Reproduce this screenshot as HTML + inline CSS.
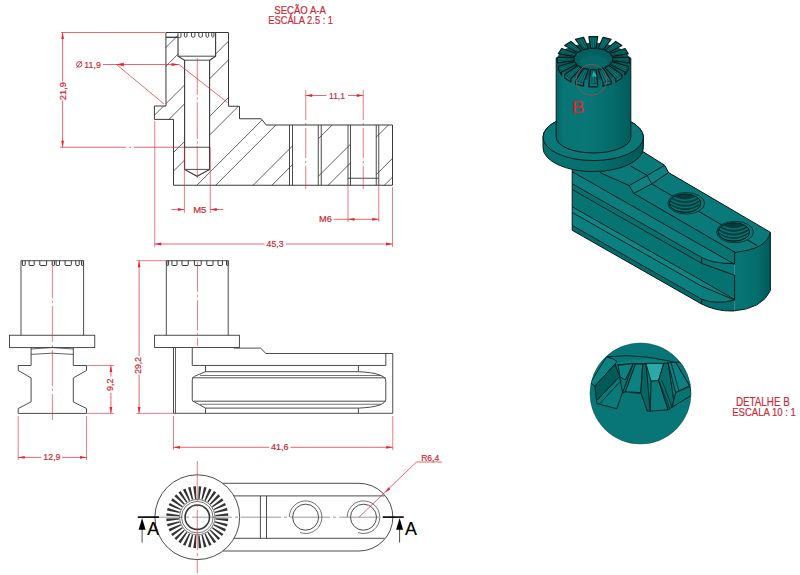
<!DOCTYPE html>
<html><head><meta charset="utf-8"><style>
html,body{margin:0;padding:0;background:#fff;width:800px;height:575px;overflow:hidden}
svg{display:block}
text{font-family:"Liberation Sans",sans-serif}
</style></head><body>
<svg width="800" height="575" viewBox="0 0 800 575">
<clipPath id="hc"><path clip-rule="evenodd" d="M165.9,32.5 H228.5 V106.25 H239.5 V118.75 H261.25 L266.25,125 H392.5 V185.25 H173.5 V119.4 H154.4 V106 H166 Z M178,32.5 V56.2 L184.6,60.2 V169.4 L197.1,176.3 L209.6,169.4 V60.2 L215.6,56.2 V32.5 Z M292.5,125 H318.25 V185.25 H292.5 Z M350.5,125 H376.25 V185.25 H350.5 Z"/></clipPath>
<path clip-path="url(#hc)" d="M-192.85,200 L-12.85,20 M-155.35,200 L24.65,20 M-136.60,200 L43.40,20 M-99.10,200 L80.90,20 M-80.35,200 L99.65,20 M-42.85,200 L137.15,20 M-24.10,200 L155.90,20 M13.40,200 L193.40,20 M32.15,200 L212.15,20 M69.65,200 L249.65,20 M88.40,200 L268.40,20 M125.90,200 L305.90,20 M144.65,200 L324.65,20 M182.15,200 L362.15,20 M200.90,200 L380.90,20 M238.40,200 L418.40,20 M257.15,200 L437.15,20 M294.65,200 L474.65,20 M313.40,200 L493.40,20 M350.90,200 L530.90,20 M369.65,200 L549.65,20 M407.15,200 L587.15,20 M425.90,200 L605.90,20 M463.40,200 L643.40,20 M482.15,200 L662.15,20 M519.65,200 L699.65,20 M538.40,200 L718.40,20" stroke="#383838" stroke-width="0.8" fill="none"/>
<path d="M165.9,32.5 H228.5 V106.25 H239.5 V118.75 H261.25 L266.25,125 H392.5 V185.25 H173.5 V119.4 H154.4 V106 H166 Z" fill="none" stroke="#383838" stroke-width="1"/>
<path d="M178,37.3 V56.2 L184.6,60.2 V169.4 L197.1,176.3 L209.6,169.4 V60.2 L215.6,56.2 V32.5" fill="none" stroke="#383838" stroke-width="1.1"/>
<line x1="178" y1="56.2" x2="215.6" y2="56.2" stroke="#383838" stroke-width="0.9" />
<line x1="184.6" y1="60.2" x2="209.6" y2="60.2" stroke="#383838" stroke-width="0.9" />
<line x1="184.6" y1="169.4" x2="209.6" y2="169.4" stroke="#383838" stroke-width="0.9" />
<line x1="184.6" y1="147.25" x2="209.6" y2="147.25" stroke="#383838" stroke-width="0.9" />
<line x1="166" y1="37.3" x2="178" y2="37.3" stroke="#383838" stroke-width="1.3" />
<path d="M184.4,32.8 V36.5 Q185.7,38.2 187,36.5 V32.8" fill="none" stroke="#383838" stroke-width="0.9"/>
<path d="M191.5,32.8 V36.5 Q193.2,38.2 194.9,36.5 V32.8" fill="none" stroke="#383838" stroke-width="0.9"/>
<path d="M198.8,32.8 V36.5 Q200.60000000000002,38.2 202.4,36.5 V32.8" fill="none" stroke="#383838" stroke-width="0.9"/>
<path d="M206,32.8 V36.5 Q207.35,38.2 208.7,36.5 V32.8" fill="none" stroke="#383838" stroke-width="0.9"/>
<path d="M211.8,32.8 V36.5 Q212.85000000000002,38.2 213.9,36.5 V32.8" fill="none" stroke="#383838" stroke-width="0.9"/>
<path d="M178,33 V37.3 Q179.5,38 181,37 V33" fill="none" stroke="#383838" stroke-width="0.9"/>
<line x1="289.5" y1="125" x2="289.5" y2="185.25" stroke="#383838" stroke-width="0.9" />
<line x1="292.5" y1="125" x2="292.5" y2="185.25" stroke="#383838" stroke-width="0.9" />
<line x1="318.25" y1="125" x2="318.25" y2="185.25" stroke="#383838" stroke-width="0.9" />
<line x1="321.25" y1="125" x2="321.25" y2="185.25" stroke="#383838" stroke-width="0.9" />
<line x1="348" y1="125" x2="348" y2="185.25" stroke="#383838" stroke-width="0.9" />
<line x1="350.5" y1="125" x2="350.5" y2="185.25" stroke="#383838" stroke-width="0.9" />
<line x1="376.25" y1="125" x2="376.25" y2="185.25" stroke="#383838" stroke-width="0.9" />
<line x1="378.75" y1="125" x2="378.75" y2="185.25" stroke="#383838" stroke-width="0.9" />
<line x1="348" y1="178.25" x2="378.75" y2="178.25" stroke="#383838" stroke-width="0.9" />
<line x1="61" y1="32.5" x2="165" y2="32.5" stroke="#e0262e" stroke-width="0.7" />
<line x1="62.6" y1="32.5" x2="62.6" y2="81.5" stroke="#e0262e" stroke-width="0.7" />
<line x1="62.6" y1="100.5" x2="62.6" y2="147.25" stroke="#e0262e" stroke-width="0.7" />
<path d="M62.60,32.50 L64.00,39.00 L61.20,39.00Z" fill="#e0262e"/>
<path d="M62.60,147.25 L61.20,140.75 L64.00,140.75Z" fill="#e0262e"/>
<line x1="60" y1="147.25" x2="184" y2="147.25" stroke="#e0262e" stroke-width="0.7" stroke-dasharray="66 3 2 3"/>
<text x="65.60" y="100.16" font-size="8.87" textLength="18.10" lengthAdjust="spacingAndGlyphs" fill="#c82a38" stroke="#c82a38" stroke-width="0.2" transform="rotate(-90 65.60 100.16)" >21,9</text>
<text x="84.34" y="67.60" font-size="9.30" textLength="16.47" lengthAdjust="spacingAndGlyphs" fill="#c82a38" stroke="#c82a38" stroke-width="0.2" >11,9</text>
<circle cx="79.2" cy="64.4" r="2.7" fill="none" stroke="#c82a38" stroke-width="0.9"/><line x1="76.6" y1="68" x2="81.8" y2="60.8" stroke="#c82a38" stroke-width="0.9"/>
<line x1="103" y1="64.5" x2="179" y2="64.5" stroke="#e0262e" stroke-width="0.7" />
<path d="M116.00,64.50 L123.80,62.80 L123.80,66.20Z" fill="#e0262e"/>
<path d="M179.00,64.50 L171.50,66.10 L171.50,62.90Z" fill="#e0262e"/>
<line x1="116.5" y1="64.5" x2="164" y2="104" stroke="#e0262e" stroke-width="0.7" />
<line x1="179" y1="64.5" x2="227.5" y2="102.5" stroke="#e0262e" stroke-width="0.7" />
<line x1="197.3" y1="58" x2="197.3" y2="178" stroke="#e0262e" stroke-width="0.6" stroke-dasharray="37 2.5 2 2.5"/>
<line x1="184.4" y1="147.5" x2="184.4" y2="213" stroke="#e0262e" stroke-width="0.6" />
<line x1="210.25" y1="147.5" x2="210.25" y2="213" stroke="#e0262e" stroke-width="0.6" />
<line x1="171.5" y1="209.5" x2="184.4" y2="209.5" stroke="#e0262e" stroke-width="0.7" />
<line x1="210.25" y1="209.5" x2="223.3" y2="209.5" stroke="#e0262e" stroke-width="0.7" />
<path d="M184.40,209.50 L177.90,210.90 L177.90,208.10Z" fill="#e0262e"/>
<path d="M210.25,209.50 L216.75,208.10 L216.75,210.90Z" fill="#e0262e"/>
<text x="193.22" y="212.75" font-size="9.52" textLength="13.18" lengthAdjust="spacingAndGlyphs" fill="#c82a38" stroke="#c82a38" stroke-width="0.2" >M5</text>
<line x1="348" y1="186" x2="348" y2="222" stroke="#e0262e" stroke-width="0.6" />
<line x1="378.75" y1="186" x2="378.75" y2="222" stroke="#e0262e" stroke-width="0.6" />
<line x1="333.75" y1="219.3" x2="378.75" y2="219.3" stroke="#e0262e" stroke-width="0.7" />
<path d="M348.00,219.30 L354.50,217.90 L354.50,220.70Z" fill="#e0262e"/>
<path d="M378.75,219.30 L372.25,220.70 L372.25,217.90Z" fill="#e0262e"/>
<text x="319.04" y="222.00" font-size="9.01" textLength="12.76" lengthAdjust="spacingAndGlyphs" fill="#c82a38" stroke="#c82a38" stroke-width="0.2" >M6</text>
<line x1="305.75" y1="90" x2="305.75" y2="189" stroke="#e0262e" stroke-width="0.6" stroke-dasharray="30 3 2 3"/>
<line x1="363.25" y1="90" x2="363.25" y2="189" stroke="#e0262e" stroke-width="0.6" stroke-dasharray="30 3 2 3"/>
<line x1="305.75" y1="95.5" x2="326.5" y2="95.5" stroke="#e0262e" stroke-width="0.7" />
<line x1="348" y1="95.5" x2="363.25" y2="95.5" stroke="#e0262e" stroke-width="0.7" />
<path d="M305.75,95.50 L312.25,94.10 L312.25,96.90Z" fill="#e0262e"/>
<path d="M363.25,95.50 L356.75,96.90 L356.75,94.10Z" fill="#e0262e"/>
<text x="329.12" y="98.50" font-size="9.45" textLength="15.80" lengthAdjust="spacingAndGlyphs" fill="#c82a38" stroke="#c82a38" stroke-width="0.2" >11,1</text>
<line x1="154.75" y1="121" x2="154.75" y2="247" stroke="#e0262e" stroke-width="0.6" />
<line x1="392.5" y1="187" x2="392.5" y2="247" stroke="#e0262e" stroke-width="0.6" />
<line x1="154.75" y1="244" x2="264.5" y2="244" stroke="#e0262e" stroke-width="0.7" />
<line x1="286" y1="244" x2="392.5" y2="244" stroke="#e0262e" stroke-width="0.7" />
<path d="M154.75,244.00 L161.25,242.60 L161.25,245.40Z" fill="#e0262e"/>
<path d="M392.50,244.00 L386.00,245.40 L386.00,242.60Z" fill="#e0262e"/>
<text x="266.55" y="246.90" font-size="8.72" textLength="16.93" lengthAdjust="spacingAndGlyphs" fill="#c82a38" stroke="#c82a38" stroke-width="0.2" >45,3</text>
<text x="274.27" y="13.50" font-size="11.48" textLength="51.66" lengthAdjust="spacingAndGlyphs" fill="#c82a38" stroke="#c82a38" stroke-width="0.2" >SEÇÃO A-A</text>
<text x="268.23" y="24.20" font-size="11.48" textLength="64.83" lengthAdjust="spacingAndGlyphs" fill="#c82a38" stroke="#c82a38" stroke-width="0.2" >ESCALA 2.5 : 1</text>
<path d="M21,335.25 V260.7 H83.6 V335.25" fill="none" stroke="#383838" stroke-width="0.9"/>
<path d="M22.4,260.7 V264.9 Q22.4,265.5 23.2,265.5 H24.4 Q25.2,265.5 25.2,264.9 V260.7" fill="none" stroke="#383838" stroke-width="1"/>
<path d="M29.1,260.7 V264.9 Q29.1,265.5 29.900000000000002,265.5 H33.400000000000006 Q34.2,265.5 34.2,264.9 V260.7" fill="none" stroke="#383838" stroke-width="1"/>
<path d="M39.8,260.7 V264.9 Q39.8,265.5 40.599999999999994,265.5 H45.800000000000004 Q46.6,265.5 46.6,264.9 V260.7" fill="none" stroke="#383838" stroke-width="1"/>
<path d="M52.2,260.7 V264.9 Q52.2,265.5 53.0,265.5 H53.6 Q54.4,265.5 54.4,264.9 V260.7" fill="none" stroke="#383838" stroke-width="1"/>
<path d="M56.1,260.7 V264.9 Q56.1,265.5 56.9,265.5 H58.7 Q59.5,265.5 59.5,264.9 V260.7" fill="none" stroke="#383838" stroke-width="1"/>
<path d="M65.1,260.7 V264.9 Q65.1,265.5 65.89999999999999,265.5 H70.5 Q71.3,265.5 71.3,264.9 V260.7" fill="none" stroke="#383838" stroke-width="1"/>
<path d="M75.8,260.7 V264.9 Q75.8,265.5 76.6,265.5 H78.4 Q79.2,265.5 79.2,264.9 V260.7" fill="none" stroke="#383838" stroke-width="1"/>
<path d="M81.5,260.7 V264.9 Q81.5,265.5 82.3,265.5 H82.5 Q83.3,265.5 83.3,264.9 V260.7" fill="none" stroke="#383838" stroke-width="1"/>
<rect x="9.5" y="335.25" width="85.25" height="12.35" fill="none" stroke="#383838" stroke-width="0.9"/>
<path d="M31.1,347.6 V365.5 H18.2 V370.5 L31.1,377.9 V401.9 L18.2,408.5 V413.4 H86.5 V408.5 L73.3,401.9 V377.9 L86.5,370.5 V365.5 H73.3 V347.6" fill="none" stroke="#383838" stroke-width="0.9"/>
<path d="M31.1,349 Q52.2,346 73.3,349" fill="none" stroke="#383838" stroke-width="0.8"/>
<path d="M31.1,354.4 Q52.2,352 73.3,354.4" fill="none" stroke="#383838" stroke-width="0.8"/>
<line x1="52.4" y1="262" x2="52.4" y2="420" stroke="#e0262e" stroke-width="0.6" stroke-dasharray="36 3 2 3"/>
<line x1="87" y1="365.5" x2="114" y2="365.5" stroke="#e0262e" stroke-width="0.6" />
<line x1="87" y1="413.4" x2="114" y2="413.4" stroke="#e0262e" stroke-width="0.6" />
<line x1="110.9" y1="365.5" x2="110.9" y2="376.5" stroke="#e0262e" stroke-width="0.7" />
<line x1="110.9" y1="392.8" x2="110.9" y2="413.4" stroke="#e0262e" stroke-width="0.7" />
<path d="M110.90,365.50 L112.30,372.00 L109.50,372.00Z" fill="#e0262e"/>
<path d="M110.90,413.40 L109.50,406.90 L112.30,406.90Z" fill="#e0262e"/>
<text x="113.10" y="390.93" font-size="8.14" textLength="12.58" lengthAdjust="spacingAndGlyphs" fill="#c82a38" stroke="#c82a38" stroke-width="0.2" transform="rotate(-90 113.10 390.93)" >9,2</text>
<line x1="18.2" y1="416" x2="18.2" y2="460" stroke="#e0262e" stroke-width="0.6" />
<line x1="86.5" y1="416" x2="86.5" y2="460" stroke="#e0262e" stroke-width="0.6" />
<line x1="18.2" y1="457.4" x2="41" y2="457.4" stroke="#e0262e" stroke-width="0.7" />
<line x1="62" y1="457.4" x2="86.5" y2="457.4" stroke="#e0262e" stroke-width="0.7" />
<path d="M18.20,457.40 L24.70,456.00 L24.70,458.80Z" fill="#e0262e"/>
<path d="M86.50,457.40 L80.00,458.80 L80.00,456.00Z" fill="#e0262e"/>
<text x="43.34" y="460.20" font-size="9.16" textLength="17.17" lengthAdjust="spacingAndGlyphs" fill="#c82a38" stroke="#c82a38" stroke-width="0.2" >12,9</text>
<line x1="136.5" y1="260.7" x2="166" y2="260.7" stroke="#e0262e" stroke-width="0.6" />
<line x1="136.5" y1="413.4" x2="173" y2="413.4" stroke="#e0262e" stroke-width="0.6" />
<line x1="139.1" y1="260.7" x2="139.1" y2="356" stroke="#e0262e" stroke-width="0.7" />
<line x1="139.1" y1="374.5" x2="139.1" y2="413.4" stroke="#e0262e" stroke-width="0.7" />
<path d="M139.10,260.70 L140.50,267.20 L137.70,267.20Z" fill="#e0262e"/>
<path d="M139.10,413.40 L137.70,406.90 L140.50,406.90Z" fill="#e0262e"/>
<text x="141.10" y="373.73" font-size="8.14" textLength="16.77" lengthAdjust="spacingAndGlyphs" fill="#c82a38" stroke="#c82a38" stroke-width="0.2" transform="rotate(-90 141.10 373.73)" >29,2</text>
<path d="M166.3,335.25 V260.7 H228.2 V335.25" fill="none" stroke="#383838" stroke-width="0.9"/>
<path d="M166.9,260.7 V264.9 Q166.9,265.5 167.70000000000002,265.5 H167.79999999999998 Q168.6,265.5 168.6,264.9 V260.7" fill="none" stroke="#383838" stroke-width="1"/>
<path d="M171.9,260.7 V264.9 Q171.9,265.5 172.70000000000002,265.5 H176.2 Q177,265.5 177,264.9 V260.7" fill="none" stroke="#383838" stroke-width="1"/>
<path d="M182,260.7 V264.9 Q182,265.5 182.8,265.5 H187.39999999999998 Q188.2,265.5 188.2,264.9 V260.7" fill="none" stroke="#383838" stroke-width="1"/>
<path d="M194.4,260.7 V264.9 Q194.4,265.5 195.20000000000002,265.5 H200.39999999999998 Q201.2,265.5 201.2,264.9 V260.7" fill="none" stroke="#383838" stroke-width="1"/>
<path d="M206.8,260.7 V264.9 Q206.8,265.5 207.60000000000002,265.5 H212.2 Q213,265.5 213,264.9 V260.7" fill="none" stroke="#383838" stroke-width="1"/>
<path d="M218,260.7 V264.9 Q218,265.5 218.8,265.5 H221.7 Q222.5,265.5 222.5,264.9 V260.7" fill="none" stroke="#383838" stroke-width="1"/>
<path d="M226.5,260.7 V264.9 Q226.5,265.5 227.3,265.5 H227.39999999999998 Q228.2,265.5 228.2,264.9 V260.7" fill="none" stroke="#383838" stroke-width="1"/>
<rect x="154.6" y="335.25" width="84.8" height="12.3" fill="none" stroke="#383838" stroke-width="0.9"/>
<line x1="197.5" y1="262" x2="197.5" y2="346" stroke="#e0262e" stroke-width="0.6" stroke-dasharray="30 3 2 3"/>
<path d="M173.5,347.6 V413.3 H392.75 V353.5 H266 L260.5,348.1 H233.75" fill="none" stroke="#383838" stroke-width="0.9"/>
<line x1="175.5" y1="347.6" x2="175.5" y2="413.3" stroke="#383838" stroke-width="0.8" />
<path d="M192.25,347.6 V365.45 H385.8 V353.5" fill="none" stroke="#383838" stroke-width="0.9"/>
<path d="M205.5,365.45 V371.7 L194.3,376.4 Q192.25,377.5 192.25,380 V399.8 Q192.25,401.5 194.3,401.9 L205.5,408.1 V413.3" fill="none" stroke="#383838" stroke-width="0.9"/>
<path d="M358.4,365.45 V371.7 Q385.8,373 385.8,381 V399 Q385.8,407 358.4,408.1 V413.3" fill="none" stroke="#383838" stroke-width="0.9"/>
<line x1="205.5" y1="371.7" x2="358.4" y2="371.7" stroke="#383838" stroke-width="0.9" />
<line x1="200" y1="375.5" x2="381" y2="375.5" stroke="#383838" stroke-width="0.7" />
<line x1="192.25" y1="377.8" x2="385.8" y2="377.8" stroke="#383838" stroke-width="0.9" />
<line x1="194" y1="401.2" x2="385.8" y2="401.2" stroke="#383838" stroke-width="0.9" />
<line x1="200" y1="404.25" x2="381" y2="404.25" stroke="#383838" stroke-width="0.7" />
<line x1="205.5" y1="408.1" x2="358.4" y2="408.1" stroke="#383838" stroke-width="0.9" />
<line x1="173.5" y1="416" x2="173.5" y2="450" stroke="#e0262e" stroke-width="0.6" />
<line x1="392.75" y1="416" x2="392.75" y2="450" stroke="#e0262e" stroke-width="0.6" />
<line x1="173.5" y1="447.3" x2="269.3" y2="447.3" stroke="#e0262e" stroke-width="0.7" />
<line x1="290.5" y1="447.3" x2="392.75" y2="447.3" stroke="#e0262e" stroke-width="0.7" />
<path d="M173.50,447.30 L180.00,445.90 L180.00,448.70Z" fill="#e0262e"/>
<path d="M392.75,447.30 L386.25,448.70 L386.25,445.90Z" fill="#e0262e"/>
<text x="271.00" y="450.30" font-size="9.01" textLength="17.50" lengthAdjust="spacingAndGlyphs" fill="#c82a38" stroke="#c82a38" stroke-width="0.2" >41,6</text>
<circle cx="197.3" cy="517.2" r="42.4" fill="none" stroke="#383838" stroke-width="0.9"/>
<path d="M215.47,519.44 L228.06,521.25 L228.30,518.56 L215.59,518.15Z M214.81,522.56 L226.89,526.53 L227.59,523.92 L215.14,521.31Z M213.61,525.52 L224.83,531.52 L225.97,529.08 L214.16,524.34Z M211.92,528.23 L221.92,536.09 L223.47,533.88 L212.66,527.16Z M209.78,530.60 L218.27,540.07 L220.17,538.17 L210.70,529.68Z M207.26,532.56 L213.98,543.37 L216.19,541.82 L208.33,531.82Z M204.44,534.06 L209.18,545.87 L211.62,544.73 L205.62,533.51Z M201.41,535.04 L204.02,547.49 L206.63,546.79 L202.66,534.71Z M198.25,535.49 L198.66,548.20 L201.35,547.96 L199.54,535.37Z M195.06,535.37 L193.25,547.96 L195.94,548.20 L196.35,535.49Z M191.94,534.71 L187.97,546.79 L190.58,547.49 L193.19,535.04Z M188.98,533.51 L182.98,544.73 L185.42,545.87 L190.16,534.06Z M186.27,531.82 L178.41,541.82 L180.62,543.37 L187.34,532.56Z M183.90,529.68 L174.43,538.17 L176.33,540.07 L184.82,530.60Z M181.94,527.16 L171.13,533.88 L172.68,536.09 L182.68,528.23Z M180.44,524.34 L168.63,529.08 L169.77,531.52 L180.99,525.52Z M179.46,521.31 L167.01,523.92 L167.71,526.53 L179.79,522.56Z M179.01,518.15 L166.30,518.56 L166.54,521.25 L179.13,519.44Z M179.13,514.96 L166.54,513.15 L166.30,515.84 L179.01,516.25Z M179.79,511.84 L167.71,507.87 L167.01,510.48 L179.46,513.09Z M180.99,508.88 L169.77,502.88 L168.63,505.32 L180.44,510.06Z M182.68,506.17 L172.68,498.31 L171.13,500.52 L181.94,507.24Z M184.82,503.80 L176.33,494.33 L174.43,496.23 L183.90,504.72Z M187.34,501.84 L180.62,491.03 L178.41,492.58 L186.27,502.58Z M190.16,500.34 L185.42,488.53 L182.98,489.67 L188.98,500.89Z M193.19,499.36 L190.58,486.91 L187.97,487.61 L191.94,499.69Z M196.35,498.91 L195.94,486.20 L193.25,486.44 L195.06,499.03Z M199.54,499.03 L201.35,486.44 L198.66,486.20 L198.25,498.91Z M202.66,499.69 L206.63,487.61 L204.02,486.91 L201.41,499.36Z M205.62,500.89 L211.62,489.67 L209.18,488.53 L204.44,500.34Z M208.33,502.58 L216.19,492.58 L213.98,491.03 L207.26,501.84Z M210.70,504.72 L220.17,496.23 L218.27,494.33 L209.78,503.80Z M212.66,507.24 L223.47,500.52 L221.92,498.31 L211.92,506.17Z M214.16,510.06 L225.97,505.32 L224.83,502.88 L213.61,508.88Z M215.14,513.09 L227.59,510.48 L226.89,507.87 L214.81,511.84Z M215.59,516.25 L228.30,515.84 L228.06,513.15 L215.47,514.96Z" fill="#333"/>
<circle cx="197.3" cy="517.2" r="17.7" fill="none" stroke="#383838" stroke-width="0.7"/>
<circle cx="197.3" cy="517.2" r="15.8" fill="none" stroke="#383838" stroke-width="0.7"/>
<circle cx="197.3" cy="517.2" r="12.2" fill="none" stroke="#383838" stroke-width="1.6"/>
<path d="M223,483.3 H359 A33.8,33.8 0 0 1 359,551 H223" fill="none" stroke="#383838" stroke-width="0.9"/>
<line x1="234" y1="495.9" x2="384.5" y2="495.9" stroke="#383838" stroke-width="0.9" />
<line x1="234" y1="538.3" x2="384.5" y2="538.3" stroke="#383838" stroke-width="0.9" />
<line x1="260.4" y1="495.9" x2="260.4" y2="538.3" stroke="#383838" stroke-width="0.9" />
<line x1="266.5" y1="495.9" x2="266.5" y2="538.3" stroke="#383838" stroke-width="0.9" />
<circle cx="305.6" cy="517.2" r="13" fill="none" stroke="#383838" stroke-width="0.9"/>
<path d="M289.3,517.2 A16.3,16.3 0 1 1 300.03,532.52" fill="none" stroke="#383838" stroke-width="0.7"/>
<circle cx="363.5" cy="517.2" r="13" fill="none" stroke="#383838" stroke-width="0.9"/>
<path d="M347.2,517.2 A16.3,16.3 0 1 1 357.93,532.52" fill="none" stroke="#383838" stroke-width="0.7"/>
<line x1="143" y1="517.2" x2="395" y2="517.2" stroke="#555" stroke-width="0.6" stroke-dasharray="40 3 3 3"/>
<line x1="197.3" y1="461" x2="197.3" y2="573" stroke="#e0262e" stroke-width="0.6" stroke-dasharray="40 3 3 3"/>
<line x1="359" y1="517.2" x2="416.5" y2="462" stroke="#e0262e" stroke-width="0.7" />
<line x1="416.5" y1="462" x2="442" y2="462" stroke="#e0262e" stroke-width="0.7" />
<path d="M384.80,492.80 L388.53,487.29 L390.46,489.32Z" fill="#e0262e"/>
<text x="421.19" y="460.90" font-size="9.30" textLength="18.06" lengthAdjust="spacingAndGlyphs" fill="#c82a38" stroke="#c82a38" stroke-width="0.2" >R6,4</text>
<line x1="137.8" y1="517.1" x2="159" y2="517.1" stroke="#000" stroke-width="1.6" />
<line x1="142.1" y1="529" x2="142.1" y2="542.6" stroke="#000" stroke-width="0.7" />
<path d="M142.1,517.9 L145.6,529.8 L138.6,529.8Z" fill="#000"/>
<text x="147.16" y="534.70" font-size="18.75" textLength="11.88" lengthAdjust="spacingAndGlyphs" fill="#000" stroke="#000" stroke-width="0.2" >A</text>
<line x1="383" y1="517.1" x2="403.75" y2="517.1" stroke="#000" stroke-width="1.6" />
<line x1="399.6" y1="529" x2="399.6" y2="542.6" stroke="#000" stroke-width="0.7" />
<path d="M399.6,517.9 L403.1,529.8 L396.1,529.8Z" fill="#000"/>
<text x="404.96" y="534.70" font-size="18.75" textLength="11.88" lengthAdjust="spacingAndGlyphs" fill="#000" stroke="#000" stroke-width="0.2" >A</text>
<defs><linearGradient id="cylg" x1="556" x2="631" y1="0" y2="0" gradientUnits="userSpaceOnUse"><stop offset="0" stop-color="#036565"/><stop offset="0.1" stop-color="#087474"/><stop offset="0.4" stop-color="#097777"/><stop offset="0.75" stop-color="#056b6b"/><stop offset="1" stop-color="#005c5c"/></linearGradient><linearGradient id="flg" x1="543" x2="643.4" y1="0" y2="0" gradientUnits="userSpaceOnUse"><stop offset="0" stop-color="#057171"/><stop offset="0.5" stop-color="#077171"/><stop offset="1" stop-color="#005959"/></linearGradient><linearGradient id="endg" x1="735" x2="771" y1="0" y2="0" gradientUnits="userSpaceOnUse"><stop offset="0" stop-color="#087676"/><stop offset="0.6" stop-color="#056d6d"/><stop offset="1" stop-color="#005959"/></linearGradient><radialGradient id="holeg" cx="0.5" cy="0.3" r="0.7"><stop offset="0" stop-color="#015353"/><stop offset="1" stop-color="#003f3f"/></radialGradient></defs>
<clipPath id="armc"><path d="M572.2,168 L572.2,230.3 L701,303.7 Q716,311.5 733,311 Q762,309 770.4,290.6 L770.4,232.3 L668.6,172.6 L664.7,165.3 L643.3,151.8 Z"/></clipPath>
<g clip-path="url(#armc)"><path d="M560.00,93.16 L737.60,194.39 L737.60,265.99 L560.00,164.76Z" fill="#087575"/><path d="M560.00,164.76 L702.00,245.70 L702.00,257.70 L560.00,176.76Z" fill="#0b7d7d"/><path d="M560.00,176.76 L702.00,257.70 L702.00,263.50 L560.00,182.56Z" fill="#067171"/><path d="M560.00,182.56 L702.00,263.50 L702.00,280.70 L560.00,199.76Z" fill="#077474"/><path d="M560.00,199.76 L702.00,280.70 L702.00,286.40 L560.00,205.46Z" fill="#0d8686"/><path d="M560.00,205.46 L702.00,286.40 L702.00,299.40 L560.00,218.46Z" fill="#0b8080"/><path d="M560.00,218.46 L702.00,299.40 L702.00,319.10 L560.00,238.16Z" fill="#046b6b"/><path d="M701.7,245.53 L734.6,263.7 Q712,263.5 701.7,257.53 Z" fill="#0c8181" stroke="#0c8181" stroke-width="0.3"/><path d="M701.7,257.53 Q712,263.5 734.6,263.7 L734.6,275.3 L701.7,263.33 Z" fill="#087676" stroke="#087676" stroke-width="0.3"/><path d="M701.7,263.33 L734.6,275.3 L734.6,298.4 L701.7,280.53 Z" fill="#067171" stroke="#067171" stroke-width="0.3"/><path d="M701.7,280.53 L734.6,298.4 L734.6,300 L701.7,286.23 Z" fill="#0c8282" stroke="#0c8282" stroke-width="0.3"/><path d="M701.7,286.23 L734.6,300 Q716,305 701.7,299.23 Z" fill="#0b7d7d" stroke="#0b7d7d" stroke-width="0.3"/><path d="M701.7,299.23 Q716,305 734.6,300 L734.6,320 L701.7,320 Z" fill="#046d6d" stroke="#046d6d" stroke-width="0.3"/><path d="M643.3,151.8 L664.7,165.3 L668.6,172.6 L770.4,232.3 Q767,249 735.1,252.4 L633.7,193.4 L629.2,185.6 L600,172.6 L590,140 Z" fill="#097979"/><path d="M629.2,185.6 L647.2,175.4 L664.7,165.3 L668.6,172.6 L651.7,183.9 L633.7,193.4 Z" fill="#0c8181"/><path d="M734.6,252.4 Q767,249 770.4,232.3 L770.4,292 Q760,309 733,311 L734.6,311 Z" fill="url(#endg)"/></g>
<path d="M572.00,171.60 L734.60,264.28 M572.00,183.60 L701.70,257.53 M572.00,189.40 L701.70,263.33 M572.00,206.60 L734.60,299.28 M572.00,212.30 L701.70,286.23 M572.00,225.30 L701.70,299.23 M701.7,257.53 Q712,263.5 734.6,263.7 M701.7,263.33 L734.6,275.3 M701.7,286.23 L734.6,300 M701.7,299.23 Q716,305 734.6,300 M734.6,252.4 V263.7 M734.6,275.3 V300 M701.7,257.53 V263.33 M701.7,299.23 V306 M600,172.6 L629.2,185.6 L633.7,193.4 L735.1,252.4 Q767,249 770.4,232.3 M630.4,165.9 L647.2,175.4 L651.7,183.9 L757,245.5 M629.2,185.6 L647.2,175.4 L664.7,165.3 M633.7,193.4 L651.7,183.9 L668.6,172.6" fill="none" stroke="#071a1a" stroke-width="1.0" clip-path="url(#armc)"/>
<path d="M572.2,168 L572.2,230.3 L701,303.7 Q716,311.5 733,311 Q762,309 770.4,290.6 L770.4,232.3 L668.6,172.6 L664.7,165.3 L643.3,151.8 Z" fill="none" stroke="#071a1a" stroke-width="1.0"/>
<ellipse cx="686.25" cy="203.25" rx="18.4" ry="10.75" fill="#087676" stroke="#071a1a" stroke-width="0.7"/>
<clipPath id="hc686"><ellipse cx="685.05" cy="203.25" rx="15.8" ry="9.25"/></clipPath>
<g clip-path="url(#hc686)"><rect x="668.05" y="193.25" width="34" height="20" fill="#023c3c"/><path d="M669.05,194.75 Q685.05,205.75 701.05,194.75" fill="none" stroke="#087070" stroke-width="1.6"/><path d="M669.05,198.45 Q685.05,209.45 701.05,198.45" fill="none" stroke="#087070" stroke-width="1.6"/><path d="M669.05,202.05 Q685.05,213.05 701.05,202.05" fill="none" stroke="#087070" stroke-width="1.6"/><path d="M669.05,205.45 Q685.05,216.45 701.05,205.45" fill="none" stroke="#087070" stroke-width="1.6"/></g>
<ellipse cx="685.05" cy="203.25" rx="15.8" ry="9.25" fill="none" stroke="#071a1a" stroke-width="1"/>
<ellipse cx="735" cy="232" rx="18.4" ry="10.75" fill="#087676" stroke="#071a1a" stroke-width="0.7"/>
<clipPath id="hc735"><ellipse cx="733.8" cy="232" rx="15.8" ry="9.25"/></clipPath>
<g clip-path="url(#hc735)"><rect x="716.8" y="222" width="34" height="20" fill="#023c3c"/><path d="M717.80,223.50 Q733.80,234.50 749.80,223.50" fill="none" stroke="#087070" stroke-width="1.6"/><path d="M717.80,227.20 Q733.80,238.20 749.80,227.20" fill="none" stroke="#087070" stroke-width="1.6"/><path d="M717.80,230.80 Q733.80,241.80 749.80,230.80" fill="none" stroke="#087070" stroke-width="1.6"/><path d="M717.80,234.20 Q733.80,245.20 749.80,234.20" fill="none" stroke="#087070" stroke-width="1.6"/></g>
<ellipse cx="733.8" cy="232" rx="15.8" ry="9.25" fill="none" stroke="#071a1a" stroke-width="1"/>
<path d="M543,137.2 A50.2,23.4 0 0 1 643.4,137.2 L643.4,147.6 A50.2,24 0 0 1 543,147.6 Z" fill="url(#flg)" stroke="#071a1a" stroke-width="1.0"/>
<ellipse cx="593.2" cy="137.2" rx="50.2" ry="23.4" fill="#0a7878" stroke="#071a1a" stroke-width="1.0"/>
<path d="M556.2,58 V137.2 A37.3,15.8 0 0 0 630.8,137.2 V58 Z" fill="url(#cylg)" stroke="#071a1a" stroke-width="1.0"/>
<ellipse cx="593.3" cy="61.3" rx="37" ry="18.5" fill="#035a5a"/>
<ellipse cx="593.8" cy="59.0" rx="19.5" ry="10.8" fill="#025f5f"/>
<ellipse cx="593.8" cy="61.8" rx="14" ry="6.5" fill="#056969"/>
<path d="M590.58,48.31 L588.95,36.57 L597.65,36.57 L596.02,48.31Z" fill="#097777" stroke="#071a1a" stroke-width="1.25" stroke-linejoin="round"/>
<path d="M592.34,48.21 L591.78,36.42 M594.26,48.21 L594.82,36.42" stroke="#023a3a" stroke-width="0.7"/>
<path d="M598.18,48.54 L603.08,37.28 L611.11,39.45 L603.20,49.70Z" fill="#097777" stroke="#071a1a" stroke-width="1.25" stroke-linejoin="round"/>
<path d="M599.87,48.83 L605.77,37.84 M601.64,49.24 L608.59,38.60" stroke="#023a3a" stroke-width="0.7"/>
<path d="M583.40,49.70 L575.49,39.45 L583.52,37.28 L588.42,48.54Z" fill="#097777" stroke="#071a1a" stroke-width="1.25" stroke-linejoin="round"/>
<path d="M584.96,49.24 L578.01,38.60 M586.73,48.83 L580.83,37.84" stroke="#023a3a" stroke-width="0.7"/>
<path d="M605.03,50.37 L615.71,41.46 L621.86,45.47 L608.88,52.50Z" fill="#097777" stroke="#071a1a" stroke-width="1.25" stroke-linejoin="round"/>
<path d="M606.40,51.00 L617.87,42.65 M607.75,51.75 L620.02,44.06" stroke="#023a3a" stroke-width="0.7"/>
<path d="M577.72,52.50 L564.74,45.47 L570.89,41.46 L581.57,50.37Z" fill="#097777" stroke="#071a1a" stroke-width="1.25" stroke-linejoin="round"/>
<path d="M578.85,51.75 L566.58,44.06 M580.20,51.00 L568.73,42.65" stroke="#023a3a" stroke-width="0.7"/>
<path d="M610.10,53.52 L624.93,48.47 L628.26,53.72 L612.18,56.30Z" fill="#097777" stroke="#071a1a" stroke-width="1.25" stroke-linejoin="round"/>
<path d="M610.93,54.38 L626.22,50.12 M611.66,55.36 L627.39,51.96" stroke="#023a3a" stroke-width="0.7"/>
<path d="M574.42,56.30 L558.34,53.72 L561.67,48.47 L576.50,53.52Z" fill="#097777" stroke="#071a1a" stroke-width="1.25" stroke-linejoin="round"/>
<path d="M574.94,55.36 L559.21,51.96 M575.67,54.38 L560.38,50.12" stroke="#023a3a" stroke-width="0.7"/>
<path d="M612.61,57.49 L629.34,57.26 L629.34,62.94 L612.61,60.51Z" fill="#097777" stroke="#071a1a" stroke-width="1.25" stroke-linejoin="round"/>
<path d="M612.78,58.47 L629.57,59.10 M612.78,59.53 L629.57,61.10" stroke="#023a3a" stroke-width="0.7"/>
<path d="M573.99,60.51 L557.26,62.94 L557.26,57.26 L573.99,57.49Z" fill="#097777" stroke="#071a1a" stroke-width="1.25" stroke-linejoin="round"/>
<path d="M573.82,59.53 L557.03,61.10 M573.82,58.47 L557.03,59.10" stroke="#023a3a" stroke-width="0.7"/>
<path d="M576.50,64.48 L561.67,71.73 L561.67,74.93 L558.34,69.68 L558.34,66.48 L574.42,61.70Z" fill="#097777" stroke="#071a1a" stroke-width="1.25" stroke-linejoin="round"/>
<path d="M575.67,63.62 L560.38,70.08 M574.94,62.64 L559.21,68.24 M561.67,71.73 L558.34,66.48" stroke="#023a3a" stroke-width="0.7"/>
<path d="M612.18,61.70 L628.26,66.48 L628.26,69.68 L624.93,74.93 L624.93,71.73 L610.10,64.48Z" fill="#097777" stroke="#071a1a" stroke-width="1.25" stroke-linejoin="round"/>
<path d="M611.66,62.64 L627.39,68.24 M610.93,63.62 L626.22,70.08 M628.26,66.48 L624.93,71.73" stroke="#023a3a" stroke-width="0.7"/>
<path d="M608.88,65.50 L621.86,74.73 L621.86,77.93 L615.71,81.94 L615.71,78.74 L605.03,67.63Z" fill="#097777" stroke="#071a1a" stroke-width="1.25" stroke-linejoin="round"/>
<path d="M607.75,66.25 L620.02,76.14 M606.40,67.00 L617.87,77.55 M621.86,74.73 L615.71,78.74" stroke="#023a3a" stroke-width="0.7"/>
<path d="M581.57,67.63 L570.89,78.74 L570.89,81.94 L564.74,77.93 L564.74,74.73 L577.72,65.50Z" fill="#097777" stroke="#071a1a" stroke-width="1.25" stroke-linejoin="round"/>
<path d="M580.20,67.00 L568.73,77.55 M578.85,66.25 L566.58,76.14 M570.89,78.74 L564.74,74.73" stroke="#023a3a" stroke-width="0.7"/>
<path d="M603.20,68.30 L611.11,80.75 L611.11,83.95 L603.08,86.12 L603.08,82.92 L598.18,69.46Z" fill="#097777" stroke="#071a1a" stroke-width="1.25" stroke-linejoin="round"/>
<path d="M601.64,68.76 L608.59,81.60 M599.87,69.17 L605.77,82.36 M611.11,80.75 L603.08,82.92" stroke="#023a3a" stroke-width="0.7"/>
<path d="M588.42,69.46 L583.52,82.92 L583.52,86.12 L575.49,83.95 L575.49,80.75 L583.40,68.30Z" fill="#097777" stroke="#071a1a" stroke-width="1.25" stroke-linejoin="round"/>
<path d="M586.73,69.17 L580.83,82.36 M584.96,68.76 L578.01,81.60 M583.52,82.92 L575.49,80.75" stroke="#023a3a" stroke-width="0.7"/>
<path d="M596.02,69.69 L597.65,83.63 L597.65,86.83 L588.95,86.83 L588.95,83.63 L590.58,69.69Z" fill="#097777" stroke="#071a1a" stroke-width="1.25" stroke-linejoin="round"/>
<path d="M594.26,69.79 L594.82,83.78 M592.34,69.79 L591.78,83.78 M597.65,83.63 L588.95,83.63" stroke="#023a3a" stroke-width="0.7"/>
<path d="M593.5,71 L592,76.5 L597,76.5 Z" fill="#24b1b1"/>
<circle cx="591.4" cy="79.9" r="15.4" fill="none" stroke="#8a5656" stroke-width="0.9"/>
<text x="572.08" y="113.40" font-size="17.01" textLength="12.28" lengthAdjust="spacingAndGlyphs" fill="#d8282c" stroke="#d8282c" stroke-width="0.2" >B</text>
<clipPath id="detc"><circle cx="640.5" cy="393.5" r="50.5"/></clipPath>
<g clip-path="url(#detc)"><rect x="585" y="338" width="112" height="112" fill="#087676"/><path d="M596,370 Q640,350 695,366 L695,372 Q660,358 618,365.3 Z" fill="#0a8181"/><path d="M606.6,356.8 Q645,352 695,368" fill="none" stroke="#071a1a" stroke-width="0.9"/><path d="M616.8,365 Q645,360 695,371" fill="none" stroke="#071a1a" stroke-width="0.9"/><path d="M590.50,382.80 L606.60,356.80 L612.30,358.50 L616.80,361.30 L615.10,364.10 L594.80,386.20Z" fill="#0c8383" stroke="#071a1a" stroke-width="0.9" stroke-linejoin="round"/><path d="M594.80,386.20 L615.10,364.10 L619.60,376.60 L596.50,400.80Z" fill="#015959" stroke="#071a1a" stroke-width="0.9" stroke-linejoin="round"/><path d="M596.50,400.80 L619.60,376.60 L622.50,392.40 L616.80,408.80 L597.00,403.50Z" fill="#0a7979" stroke="#071a1a" stroke-width="0.9" stroke-linejoin="round"/><path d="M599.5,404 L621.5,380" stroke="#071a1a" stroke-width="0.8"/><path d="M618.00,365.30 L633.20,363.60 L625.30,380.00 L620.20,377.10Z" fill="#0b8181" stroke="#071a1a" stroke-width="0.9" stroke-linejoin="round"/><path d="M633.20,363.60 L635.50,364.10 L625.30,391.80 L622.50,393.00Z" fill="#077171" stroke="#071a1a" stroke-width="0.9" stroke-linejoin="round"/><path d="M635.50,364.10 L642.70,364.00 L640.80,392.60 L625.30,391.80Z" fill="#0b8181" stroke="#071a1a" stroke-width="0.9" stroke-linejoin="round"/><path d="M642.70,364.00 L645.90,363.40 L650.30,411.10 L647.20,411.10 L640.80,392.60Z" fill="#046565" stroke="#071a1a" stroke-width="0.9" stroke-linejoin="round"/><path d="M645.90,363.40 L663.70,363.40 L658.60,380.60 L651.00,381.20Z" fill="#2ba9a9" stroke="#071a1a" stroke-width="0.9" stroke-linejoin="round"/><path d="M651.00,381.20 L658.60,380.60 L668.10,409.80 L650.30,411.10Z" fill="#097b7b" stroke="#071a1a" stroke-width="0.9" stroke-linejoin="round"/><path d="M663.70,363.40 L668.10,362.80 L674.50,405.60 L668.10,409.80 L658.60,380.60Z" fill="#056b6b" stroke="#071a1a" stroke-width="0.9" stroke-linejoin="round"/><path d="M659.5,382 L669.5,408 M662,380.5 L672,407" stroke="#071a1a" stroke-width="0.7"/><path d="M668.10,362.80 L675.70,362.20 L689.70,385.70 L675.70,392.60Z" fill="#0b8181" stroke="#071a1a" stroke-width="0.9" stroke-linejoin="round"/><path d="M671,362.5 L679,391" stroke="#071a1a" stroke-width="0.8"/><path d="M675.70,392.60 L689.70,386.30 L692.00,395.00 L671.90,407.30Z" fill="#077373" stroke="#071a1a" stroke-width="0.9" stroke-linejoin="round"/><path d="M675.70,362.20 L682.00,362.00 L695.00,380.00 L689.70,385.70Z" fill="#087777" stroke="#071a1a" stroke-width="0.9" stroke-linejoin="round"/><path d="M630,392.6 L640.8,393.3" stroke="#071a1a" stroke-width="0.8"/></g>
<circle cx="640.5" cy="393.5" r="50.5" fill="none" stroke="#004b4b" stroke-width="0.5"/>
<text x="735.89" y="405.50" font-size="12.35" textLength="53.83" lengthAdjust="spacingAndGlyphs" fill="#c82a38" stroke="#c82a38" stroke-width="0.2" >DETALHE B</text>
<text x="732.21" y="415.80" font-size="11.63" textLength="63.55" lengthAdjust="spacingAndGlyphs" fill="#c82a38" stroke="#c82a38" stroke-width="0.2" >ESCALA 10 : 1</text>
</svg></body></html>
